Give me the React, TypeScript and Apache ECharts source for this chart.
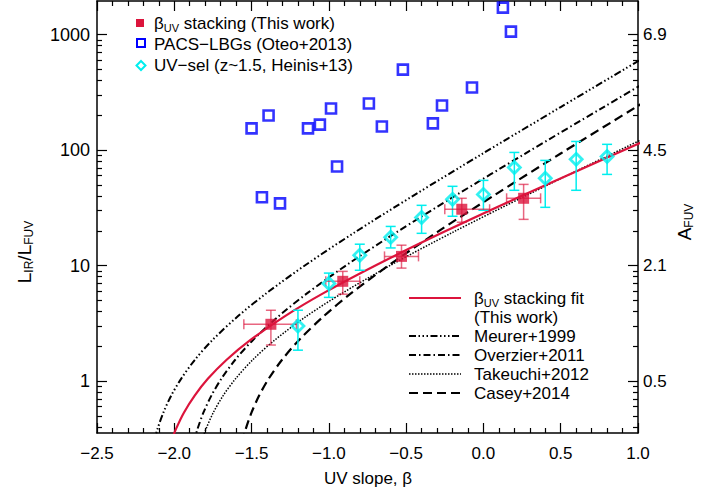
import React, { useEffect, useRef } from 'react';
import * as echarts from 'echarts';

// ---- Data ----
const stackBeta = [-1.375, -0.91, -0.53, -0.14, 0.26];
const stackIRX = [3.1, 7.3, 12.0, 30.7, 38.2];
const stackBetaLow = [-1.55, -1.02, -0.64, -0.25, 0.15];
const stackBetaHigh = [-1.21, -0.8, -0.42, 0.04, 0.37];
const stackIRXLow = [2.05, 5.65, 9.5, 23.7, 25.1];
const stackIRXHigh = [4.1, 8.9, 15.0, 38.2, 50.4];

const heinisBeta = [-1.2, -1.0, -0.8, -0.6, -0.4, -0.2, 0.0, 0.2, 0.4, 0.6, 0.8];
const heinisIRX = [3.0, 7.0, 12.3, 17.6, 26.1, 37.4, 41.3, 70.7, 56.9, 83.0, 88.0];
const heinisIRXLow = [1.85, 5.3, 9.1, 14.2, 19.0, 26.7, 30.1, 44.8, 31.9, 44.8, 61.5];
const heinisIRXHigh = [4.1, 8.6, 15.3, 21.8, 33.2, 48.5, 54.6, 95.3, 81.3, 118.6, 112.0];

const oteoBeta = [-1.5, -1.39, -1.135, -1.058, -0.986, -0.947, -1.433, -1.316, -0.741, -0.521, -0.657, -0.327, -0.268, -0.074, 0.126, 0.178];
const oteoIRX = [154, 199, 154, 166, 229, 72, 39, 34.5, 253, 497, 160, 170, 243, 348, 1708, 1059];

const fitBeta = [-2.023, -1.988, -1.937, -1.868, -1.783, -1.663, -1.509, -1.286, -1.029, -0.686, -0.258, 0.256, 0.856, 1.541];
const fitIRX = [0.294, 0.387, 0.535, 0.748, 1.045, 1.521, 2.258, 3.633, 5.824, 10.21, 19.47, 40.52, 92.79, 235.6];

const meurerBeta = [-2.133, -2.108, -2.07, -2.02, -1.956, -1.868, -1.754, -1.589, -1.399, -1.146, -0.83, -0.45, -0.007, 0.5, 1.069];
const meurerIRX = [0.294, 0.387, 0.535, 0.748, 1.045, 1.521, 2.258, 3.633, 5.824, 10.21, 19.47, 40.52, 92.79, 235.6, 667.1];

const overzierBeta = [-1.875, -1.849, -1.811, -1.76, -1.696, -1.607, -1.492, -1.326, -1.135, -0.88, -0.561, -0.178, 0.268, 0.778, 1.352];
const overzierIRX = [0.294, 0.387, 0.535, 0.748, 1.045, 1.521, 2.258, 3.633, 5.824, 10.21, 19.47, 40.52, 92.79, 235.6, 667.1];

const takeuchiBeta = [-1.826, -1.794, -1.747, -1.684, -1.604, -1.494, -1.351, -1.146, -0.908, -0.592, -0.196, 0.279, 0.832, 1.465];
const takeuchiIRX = [0.294, 0.387, 0.535, 0.748, 1.045, 1.521, 2.258, 3.633, 5.824, 10.21, 19.47, 40.52, 92.79, 235.6];

const caseyBeta = [-1.561, -1.537, -1.5, -1.451, -1.39, -1.304, -1.194, -1.034, -0.851, -0.605, -0.299, 0.069, 0.497, 0.988, 1.539];
const caseyIRX = [0.294, 0.387, 0.535, 0.748, 1.045, 1.521, 2.258, 3.633, 5.824, 10.21, 19.47, 40.52, 92.79, 235.6, 667.1];

const leftMajorTicks = [1, 10, 100, 1000];
const leftTickLabels = ['1', '10', '100', '1000'];
const minorTicks = [0.4, 0.5, 0.6, 0.7, 0.8, 0.9, 2, 3, 4, 5, 6, 7, 8, 9, 20, 30, 40, 50, 60, 70, 80, 90, 200, 300, 400, 500, 600, 700, 800, 900];
const rightTickIRX = [1, 10, 100, 1000];
const rightTickLabels = ['0.5', '2.1', '4.5', '6.9'];

const FONT = 'Liberation Sans, Arial, Helvetica, sans-serif';
const RED = '#DC143C';
const BLUE = '#0000FF';
const CYAN = '#00EEEE';

const zip = (a: number[], b: number[]) => a.map((v, i) => [v, b[i]]);

const pickLabel = (ticks: number[], labels: string[]) => (v: number) => {
  const idx = ticks.findIndex((t) => Math.abs(Math.log10(t) - Math.log10(v)) < 0.01);
  return idx >= 0 ? labels[idx] : '';
};

function errorSeries(name: string, data: number[][], color: string) {
  return {
    type: 'custom',
    name,
    z: 3,
    silent: true,
    encode: { x: [0, 2, 3], y: [1, 4, 5] },
    data,
    renderItem: (params: any, api: any) => {
      const x = api.value(0);
      const y = api.value(1);
      const xl = api.value(2);
      const xh = api.value(3);
      const yl = api.value(4);
      const yh = api.value(5);
      const c = api.coord([x, y]);
      const top = api.coord([x, yh]);
      const bot = api.coord([x, yl]);
      const cap = 5;
      const st = () => ({ stroke: color, lineWidth: 1.5, fill: 'none' });
      const children: any[] = [
        { type: 'line', shape: { x1: c[0], y1: top[1], x2: c[0], y2: bot[1] }, style: st() },
        { type: 'line', shape: { x1: c[0] - cap, y1: top[1], x2: c[0] + cap, y2: top[1] }, style: st() },
        { type: 'line', shape: { x1: c[0] - cap, y1: bot[1], x2: c[0] + cap, y2: bot[1] }, style: st() },
      ];
      if (xl !== xh) {
        const l = api.coord([xl, y]);
        const r = api.coord([xh, y]);
        children.push(
          { type: 'line', shape: { x1: l[0], y1: c[1], x2: r[0], y2: c[1] }, style: st() },
          { type: 'line', shape: { x1: l[0], y1: c[1] - cap, x2: l[0], y2: c[1] + cap }, style: st() },
          { type: 'line', shape: { x1: r[0], y1: c[1] - cap, x2: r[0], y2: c[1] + cap }, style: st() }
        );
      }
      return { type: 'group', children };
    },
  };
}

function curve(name: string, xs: number[], ys: number[], color: string, width: number, type: any) {
  return {
    type: 'line',
    name,
    data: zip(xs, ys),
    showSymbol: false,
    symbol: 'none',
    smooth: 0.3,
    clip: true,
    z: 2,
    silent: true,
    lineStyle: { color, width, type, cap: 'butt' },
  };
}

const richBase = {
  n: { fontSize: 17, fontFamily: FONT, fill: '#000', lineHeight: 20 },
  s: { fontSize: 11, fontFamily: FONT, fill: '#000', lineHeight: 12, verticalAlign: 'bottom' },
};

function legendText(x: number, y: number, text: string) {
  return {
    type: 'text',
    x,
    y,
    style: { text, rich: richBase, fontSize: 17, fontFamily: FONT, fill: '#000', align: 'left', verticalAlign: 'middle' },
  };
}

function legendLine(y: number, color: string, width: number, dash: any) {
  return {
    type: 'line',
    shape: { x1: 409, y1: y, x2: 461, y2: y },
    style: { stroke: color, lineWidth: width, lineDash: dash, lineCap: 'butt' },
  };
}

const MEURER_DASH = [7, 2.5, 1.5, 2.5, 1.5, 2.5, 1.5, 2.5];
const OVERZIER_DASH = [7, 3, 1.5, 3];
const TAKEUCHI_DASH = [1.5, 1.5];
const CASEY_DASH = [9, 5];

export default function App() {
  const ref = useRef<HTMLDivElement>(null);
  useEffect(() => {
    if (!ref.current) return;
    const chart = echarts.init(ref.current, undefined, { renderer: 'svg' });
    const axisLineStyle = { color: '#000', width: 1.5 };
    const tickStyle = { color: '#000', width: 1.2 };
    const xCommon = {
      type: 'value',
      min: -2.5,
      max: 1.0,
      interval: 0.5,
      splitLine: { show: false },
      axisLine: { show: true, onZero: false, lineStyle: axisLineStyle },
      axisTick: { show: true, inside: true, length: 10, lineStyle: tickStyle },
      minorTick: { show: true, splitNumber: 5, length: 5, lineStyle: tickStyle },
    };
    const yCommon = {
      type: 'log',
      min: 0.355,
      max: 1950,
      splitLine: { show: false },
    };
    const option: any = {
      animation: false,
      backgroundColor: '#fff',
      grid: { left: 97, right: 80, top: 1, bottom: 61, containLabel: false },
      xAxis: [
        {
          ...xCommon,
          position: 'bottom',
          axisLabel: {
            show: true,
            fontSize: 17,
            fontFamily: FONT,
            color: '#000',
            margin: 12,
            formatter: (v: number) => v.toFixed(1).replace('-', '\u2212'),
          },
        },
        { ...xCommon, position: 'top', axisLabel: { show: false } },
      ],
      yAxis: [
        {
          ...yCommon,
          position: 'left',
          axisLine: { show: true, onZero: false, lineStyle: axisLineStyle },
          axisTick: { show: true, inside: true, length: 10, lineStyle: tickStyle, customValues: leftMajorTicks },
          axisLabel: {
            show: true,
            fontSize: 18,
            fontFamily: FONT,
            color: '#000',
            margin: 7,
            customValues: leftMajorTicks,
            formatter: pickLabel(leftMajorTicks, leftTickLabels),
          },
        },
        {
          ...yCommon,
          position: 'left',
          axisLine: { show: false, onZero: false },
          axisTick: { show: true, inside: true, length: 5, lineStyle: tickStyle, customValues: minorTicks },
          axisLabel: { show: false },
        },
        {
          ...yCommon,
          position: 'right',
          axisLine: { show: true, onZero: false, lineStyle: axisLineStyle },
          axisTick: { show: true, inside: true, length: 10, lineStyle: tickStyle, customValues: rightTickIRX },
          axisLabel: {
            show: true,
            fontSize: 17,
            fontFamily: FONT,
            color: '#000',
            margin: 5,
            customValues: rightTickIRX,
            formatter: pickLabel(rightTickIRX, rightTickLabels),
          },
        },
        {
          ...yCommon,
          position: 'right',
          axisLine: { show: false, onZero: false },
          axisTick: { show: true, inside: true, length: 5, lineStyle: tickStyle, customValues: minorTicks },
          axisLabel: { show: false },
        },
      ],
      series: [
        curve('Meurer+1999', meurerBeta, meurerIRX, '#000', 2, MEURER_DASH),
        curve('Overzier+2011', overzierBeta, overzierIRX, '#000', 2, OVERZIER_DASH),
        curve('Takeuchi+2012', takeuchiBeta, takeuchiIRX, '#000', 1.5, TAKEUCHI_DASH),
        curve('Casey+2014', caseyBeta, caseyIRX, '#000', 2.2, CASEY_DASH),
        curve('βUV stacking fit (This work)', fitBeta, fitIRX, RED, 2.2, 'solid'),
        errorSeries(
          'UV-sel errors',
          heinisBeta.map((b, i) => [b, heinisIRX[i], b, b, heinisIRXLow[i], heinisIRXHigh[i]]),
          CYAN
        ),
        errorSeries(
          'stacking errors',
          stackBeta.map((b, i) => [b, stackIRX[i], stackBetaLow[i], stackBetaHigh[i], stackIRXLow[i], stackIRXHigh[i]]),
          'rgba(220,20,60,0.65)'
        ),
        {
          type: 'scatter',
          name: 'PACS−LBGs (Oteo+2013)',
          data: zip(oteoBeta, oteoIRX),
          symbol: 'rect',
          symbolSize: 10,
          z: 4,
          itemStyle: { color: 'rgba(0,0,0,0)', borderColor: BLUE, borderWidth: 2.6 },
        },
        {
          type: 'scatter',
          name: 'UV−sel (z~1.5, Heinis+13)',
          data: zip(heinisBeta, heinisIRX),
          symbol: 'diamond',
          symbolSize: 12,
          z: 4,
          itemStyle: { color: 'rgba(0,0,0,0)', borderColor: CYAN, borderWidth: 2.8 },
        },
        {
          type: 'scatter',
          name: 'βUV stacking (This work)',
          data: zip(stackBeta, stackIRX),
          symbol: 'rect',
          symbolSize: 11,
          z: 5,
          itemStyle: { color: RED },
        },
      ],
      graphic: [
        // top-left legend
        { type: 'rect', shape: { x: 136, y: 19, width: 8, height: 8 }, style: { fill: RED } },
        legendText(154, 23, '{n|β}{s|UV}{n| stacking (This work)}'),
        { type: 'rect', shape: { x: 137, y: 39, width: 8, height: 8 }, style: { fill: 'none', stroke: BLUE, lineWidth: 2 } },
        legendText(154, 44, '{n|PACS−LBGs (Oteo+2013)}'),
        {
          type: 'polygon',
          shape: { points: [[141, 61], [145.5, 65.5], [141, 70], [136.5, 65.5]] },
          style: { fill: 'none', stroke: CYAN, lineWidth: 2 },
        },
        legendText(154, 65, '{n|UV−sel (z~1.5, Heinis+13)}'),
        // lower-right legend
        legendLine(298, RED, 2.2, null),
        legendText(474, 298, '{n|β}{s|UV}{n| stacking fit}'),
        legendText(474, 317, '{n|(This work)}'),
        legendLine(336, '#000', 2, MEURER_DASH),
        legendText(474, 336, '{n|Meurer+1999}'),
        legendLine(355, '#000', 2, OVERZIER_DASH),
        legendText(474, 355, '{n|Overzier+2011}'),
        legendLine(374, '#000', 1.5, TAKEUCHI_DASH),
        legendText(474, 374, '{n|Takeuchi+2012}'),
        legendLine(393, '#000', 2.2, CASEY_DASH),
        legendText(474, 393, '{n|Casey+2014}'),
        // axis titles
        {
          type: 'text',
          x: 24,
          y: 252,
          rotation: Math.PI / 2,
          style: {
            text: '{n|L}{s|IR}{n|/L}{s|FUV}',
            rich: {
              n: { fontSize: 19, fontFamily: FONT, fill: '#000', lineHeight: 22 },
              s: { fontSize: 12, fontFamily: FONT, fill: '#000', lineHeight: 13, verticalAlign: 'bottom' },
            },
            align: 'center',
            verticalAlign: 'middle',
          },
        },
        {
          type: 'text',
          x: 684,
          y: 222,
          rotation: Math.PI / 2,
          style: {
            text: '{n|A}{s|FUV}',
            rich: {
              n: { fontSize: 19, fontFamily: FONT, fill: '#000', lineHeight: 22 },
              s: { fontSize: 12, fontFamily: FONT, fill: '#000', lineHeight: 13, verticalAlign: 'bottom' },
            },
            align: 'center',
            verticalAlign: 'middle',
          },
        },
        {
          type: 'text',
          x: 368,
          y: 478,
          style: { text: 'UV slope, β', fontSize: 17, fontFamily: FONT, fill: '#000', align: 'center', verticalAlign: 'middle' },
        },
      ],
    };
    chart.setOption(option);
    return () => chart.dispose();
  }, []);
  return <div ref={ref} style={{ position: 'fixed', left: 0, top: 0, width: 718, height: 494, background: '#fff' }} />;
}
